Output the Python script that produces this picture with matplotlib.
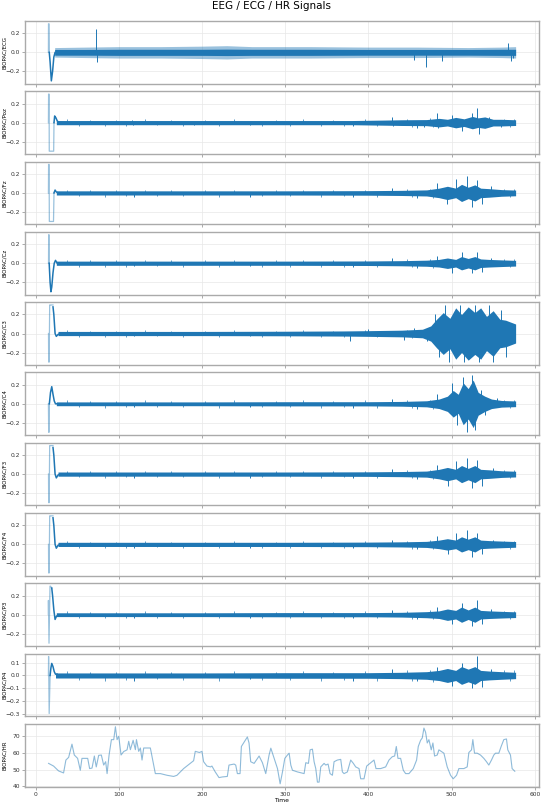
import matplotlib
matplotlib.use("Agg")
import matplotlib.pyplot as plt

# channel names (top to bottom)
channels = ["BIOPAC/ECG", "BIOPAC/Poz", "BIOPAC/Fz", "BIOPAC/Cz", "BIOPAC/C3",
            "BIOPAC/C4", "BIOPAC/F3", "BIOPAC/F4", "BIOPAC/P3", "BIOPAC/P4"]

# start-up artefact of each channel: light part (thin spike) and dark part
spike_t = {
    "BIOPAC/ECG": [15.5, 15.6, 16.2, 16.5],
    "BIOPAC/Poz": [15.5, 15.7, 16.3, 16.5, 21.8, 22.2],
    "BIOPAC/Fz": [15.5, 15.7, 16.3, 16.6, 21.6, 22.2],
    "BIOPAC/Cz": [15.6, 15.8, 16.2, 16.4],
    "BIOPAC/C3": [15.6, 15.8, 16.4, 17.0, 17.6, 21.0],
    "BIOPAC/C4": [15.5, 15.8, 16.2, 16.6],
    "BIOPAC/F3": [15.6, 15.8, 16.4, 17.0, 17.6, 21.0],
    "BIOPAC/F4": [15.6, 15.8, 16.4, 17.0, 17.6, 21.0],
    "BIOPAC/P3": [15.4, 15.5, 16.2, 17.4, 18.0, 19.5],
    "BIOPAC/P4": [15.5, 15.7, 16.4, 17.5],
}
spike_v = {
    "BIOPAC/ECG": [0.0, 0.3, 0.3, 0.0],
    "BIOPAC/Poz": [0.0, 0.3, 0.3, -0.3, -0.3, 0.0],
    "BIOPAC/Fz": [0.0, 0.3, 0.3, -0.3, -0.3, 0.0],
    "BIOPAC/Cz": [0.0, 0.3, 0.3, 0.0],
    "BIOPAC/C3": [0.0, -0.3, -0.3, 0.3, 0.3, 0.3],
    "BIOPAC/C4": [0.0, -0.3, -0.3, 0.0],
    "BIOPAC/F3": [0.0, -0.3, -0.3, 0.3, 0.3, 0.3],
    "BIOPAC/F4": [0.0, -0.3, -0.3, 0.3, 0.3, 0.3],
    "BIOPAC/P3": [0.0, 0.15, -0.3, 0.3, 0.3, 0.28],
    "BIOPAC/P4": [0.0, 0.15, -0.3, 0.0],
}
lead_t = {
    "BIOPAC/ECG": [16.5, 17.5, 19.0, 20.5, 22.0, 23.5, 25.0],
    "BIOPAC/Poz": [22.2, 23.0, 24.5, 26.0, 28.0, 30.0],
    "BIOPAC/Fz": [22.2, 23.5, 25.0, 27.0, 30.0],
    "BIOPAC/Cz": [16.4, 17.5, 18.5, 19.5, 21.0, 22.5, 24.0, 26.0],
    "BIOPAC/C3": [21.0, 22.0, 23.5, 25.0, 27.0, 30.0],
    "BIOPAC/C4": [16.6, 18.0, 19.5, 21.0, 22.5, 24.0, 26.0],
    "BIOPAC/F3": [21.0, 22.0, 23.5, 25.0, 27.0, 30.0],
    "BIOPAC/F4": [21.0, 22.0, 23.5, 25.0, 27.0, 30.0],
    "BIOPAC/P3": [19.5, 20.5, 22.0, 23.5, 25.0, 27.0],
    "BIOPAC/P4": [17.5, 18.5, 19.5, 21.0, 22.5, 24.0, 26.0],
}
lead_v = {
    "BIOPAC/ECG": [0.0, -0.1, -0.3, -0.2, -0.05, 0.0, 0.0],
    "BIOPAC/Poz": [0.0, 0.07, 0.05, 0.02, 0.0, 0.0],
    "BIOPAC/Fz": [0.0, 0.03, 0.01, 0.0, 0.0],
    "BIOPAC/Cz": [0.0, -0.2, -0.3, -0.25, -0.1, 0.0, 0.03, 0.0],
    "BIOPAC/C3": [0.28, 0.2, 0.0, -0.03, -0.01, 0.0],
    "BIOPAC/C4": [0.0, 0.12, 0.18, 0.1, 0.03, 0.0, 0.0],
    "BIOPAC/F3": [0.28, 0.2, 0.0, -0.04, -0.01, 0.0],
    "BIOPAC/F4": [0.28, 0.2, 0.0, -0.04, -0.01, 0.0],
    "BIOPAC/P3": [0.28, 0.2, 0.05, -0.05, -0.02, 0.0],
    "BIOPAC/P4": [0.0, 0.06, 0.095, 0.07, 0.03, 0.01, 0.01],
}

# envelope of the dense signal band: breakpoints (time) and half-width
band_t = {
    "BIOPAC/ECG": [23, 60, 100, 150, 200, 230, 260, 330, 400, 460, 520, 560, 577],
    "BIOPAC/Poz": [25, 100, 200, 300, 380, 420, 440, 470, 485, 495, 505, 515, 525, 532, 540, 550, 560, 577],
    "BIOPAC/Fz": [25, 100, 200, 300, 400, 440, 470, 485, 495, 505, 512, 520, 528, 535, 545, 560, 577],
    "BIOPAC/Cz": [25, 100, 200, 300, 400, 440, 470, 485, 495, 505, 512, 520, 528, 535, 545, 560, 577],
    "BIOPAC/C3": [27, 100, 200, 300, 370, 400, 440, 465, 475, 482, 490, 498, 505, 512, 520, 528, 535, 542,
                  550, 558, 565, 577],
    "BIOPAC/C4": [25, 100, 200, 300, 400, 440, 470, 485, 495, 502, 508, 514, 520, 526, 532, 540, 548, 560, 577],
    "BIOPAC/F3": [27, 100, 200, 300, 400, 440, 470, 485, 495, 505, 512, 520, 528, 535, 545, 560, 577],
    "BIOPAC/F4": [27, 100, 200, 300, 400, 440, 470, 485, 495, 505, 512, 520, 528, 535, 545, 560, 577],
    "BIOPAC/P3": [25, 100, 200, 300, 400, 440, 470, 485, 495, 505, 512, 520, 528, 535, 545, 560, 577],
    "BIOPAC/P4": [24, 100, 200, 300, 400, 440, 470, 485, 495, 505, 512, 520, 528, 535, 545, 560, 577],
}
band_a = {
    "BIOPAC/ECG": [0.03, 0.03, 0.032, 0.032, 0.032, 0.034, 0.032, 0.032, 0.03, 0.03, 0.03, 0.032, 0.032],
    "BIOPAC/Poz": [0.022, 0.022, 0.022, 0.022, 0.022, 0.027, 0.03, 0.032, 0.045, 0.035, 0.055, 0.04,
                   0.065, 0.05, 0.06, 0.035, 0.035, 0.03],
    "BIOPAC/Fz": [0.022, 0.022, 0.022, 0.022, 0.024, 0.027, 0.032, 0.05, 0.07, 0.05, 0.09, 0.06, 0.085,
                  0.05, 0.045, 0.035, 0.03],
    "BIOPAC/Cz": [0.022, 0.022, 0.022, 0.022, 0.024, 0.027, 0.032, 0.04, 0.055, 0.04, 0.07, 0.05, 0.07,
                  0.045, 0.04, 0.035, 0.03],
    "BIOPAC/C3": [0.022, 0.022, 0.022, 0.024, 0.027, 0.03, 0.035, 0.045, 0.08, 0.15, 0.22, 0.16, 0.27,
                  0.2, 0.28, 0.22, 0.27, 0.18, 0.24, 0.15, 0.14, 0.1],
    "BIOPAC/C4": [0.02, 0.02, 0.02, 0.022, 0.022, 0.025, 0.032, 0.05, 0.08, 0.14, 0.1, 0.22, 0.16, 0.25,
                  0.12, 0.08, 0.05, 0.035, 0.03],
    "BIOPAC/F3": [0.022, 0.022, 0.022, 0.022, 0.024, 0.027, 0.032, 0.05, 0.07, 0.05, 0.09, 0.06, 0.09,
                  0.05, 0.045, 0.035, 0.03],
    "BIOPAC/F4": [0.022, 0.022, 0.022, 0.022, 0.024, 0.027, 0.032, 0.045, 0.06, 0.045, 0.08, 0.055, 0.08,
                  0.045, 0.04, 0.035, 0.03],
    "BIOPAC/P3": [0.02, 0.02, 0.02, 0.022, 0.022, 0.025, 0.032, 0.04, 0.06, 0.045, 0.08, 0.05, 0.08,
                  0.045, 0.04, 0.035, 0.03],
    "BIOPAC/P4": [0.02, 0.02, 0.02, 0.022, 0.022, 0.025, 0.03, 0.04, 0.055, 0.04, 0.07, 0.05, 0.07,
                  0.04, 0.035, 0.03, 0.025],
}

# lighter outer band of the ECG trace
ecg_outer_a = [0.05, 0.055, 0.06, 0.06, 0.065, 0.07, 0.06, 0.06, 0.055, 0.055, 0.05, 0.055, 0.06]

# small excursions seen all along the baseline (time, value), shared by the EEG leads
base_spikes = [(38, 0.035), (52, -0.035), (66, 0.03), (83, -0.04), (97, 0.03), (109, -0.035),
               (131, 0.035), (146, -0.03), (163, 0.03), (177, -0.035), (204, 0.03), (221, -0.04),
               (238, 0.035), (272, -0.035), (289, 0.03), (306, -0.035), (321, 0.035), (343, -0.04),
               (358, 0.03), (371, -0.035), (396, 0.035), (411, -0.04), (446, 0.04), (452, -0.045),
               (474, 0.045), (478, -0.05), (563, 0.04), (570, -0.045), (575, 0.04)]

# isolated excursions out of the band (time, value)
spikes = {
    "BIOPAC/ECG": [(72.5, 0.25), (74, -0.1), (455, -0.08), (469, -0.15), (488, -0.09),
                   (568, 0.1), (571, -0.09), (574, -0.06)],
    "BIOPAC/Poz": [(116, 0.03), (117, -0.03), (190, -0.03), (258, -0.03), (382, -0.035),
                   (429, 0.06), (430, -0.04), (458, -0.06), (467, -0.05), (483, 0.1),
                   (484, -0.06), (500, 0.08), (512, -0.09), (525, 0.1), (531, 0.15),
                   (533, -0.12), (545, 0.06), (560, -0.05)],
    "BIOPAC/Fz": [(118, -0.04), (258, -0.04), (382, -0.04), (429, 0.05), (458, -0.05),
                  (483, 0.1), (495, -0.12), (505, 0.15), (518, 0.18), (524, -0.15),
                  (531, 0.14), (536, -0.12), (548, 0.07)],
    "BIOPAC/Cz": [(118, -0.03), (258, -0.03), (382, -0.035), (429, 0.05), (458, -0.05),
                  (483, 0.08), (500, -0.1), (512, 0.12), (524, -0.1), (531, 0.12),
                  (536, -0.09), (548, 0.06)],
    "BIOPAC/C3": [(118, -0.03), (258, -0.03), (378, -0.08), (400, 0.05), (443, -0.07),
                  (455, 0.06), (470, -0.08), (480, 0.2), (485, -0.25), (492, 0.3),
                  (497, -0.3), (510, 0.3), (515, -0.3), (528, 0.3), (533, -0.3),
                  (545, 0.3), (550, -0.3), (560, 0.25), (566, -0.25)],
    "BIOPAC/C4": [(118, -0.03), (258, -0.03), (382, -0.04), (429, 0.05), (458, -0.05),
                  (483, 0.1), (500, 0.22), (506, -0.22), (514, 0.28), (518, -0.3),
                  (524, 0.3), (528, -0.28), (535, 0.15), (540, -0.12), (555, 0.06)],
    "BIOPAC/F3": [(118, -0.04), (258, -0.04), (382, -0.04), (429, 0.05), (458, -0.05),
                  (483, 0.1), (496, -0.12), (505, 0.14), (518, 0.17), (524, -0.15),
                  (531, 0.15), (536, -0.12), (550, 0.06)],
    "BIOPAC/F4": [(118, -0.04), (258, -0.04), (382, -0.04), (429, 0.05), (458, -0.05),
                  (483, 0.09), (496, -0.1), (505, 0.12), (518, 0.15), (524, -0.13),
                  (531, 0.12), (536, -0.1), (550, 0.05)],
    "BIOPAC/P3": [(118, -0.03), (258, -0.03), (382, -0.035), (429, 0.05), (458, -0.05),
                  (483, 0.08), (500, -0.1), (512, 0.12), (524, -0.12), (531, 0.15),
                  (536, -0.1), (548, 0.06)],
    "BIOPAC/P4": [(118, -0.04), (258, -0.03), (382, -0.04), (429, 0.05), (458, -0.04),
                  (483, 0.07), (500, -0.08), (512, 0.1), (524, -0.1), (531, 0.15),
                  (536, -0.09), (548, 0.05)],
}

# heart rate trace
hr_t = [15.7, 21.7, 27.7, 33.7, 36.5, 39.8, 43.8, 46.6, 50.6, 53.8, 55.8, 62.7, 65.0, 67.9,
        70.7, 73.0, 75.9, 79.1, 81.9, 84.3, 86.0, 88.4, 91.2, 94.0, 96.0, 98.0, 100.0, 102.8,
        106.0, 110.0, 112.0, 114.0, 117.3, 120.0, 121.3, 124.0, 126.0, 128.0, 130.0, 138.0,
        144.0, 150.0, 158.0, 166.0, 170.0, 178.0, 186.0, 190.0, 192.0, 197.0, 200.0, 202.0,
        206.0, 210.4, 212.0, 216.0, 220.5, 224.5, 230.5, 232.5, 238.6, 240.6, 242.6, 245.8,
        247.4, 254.6, 256.6, 258.6, 262.7, 266.7, 268.7, 272.7, 276.7, 280.7, 282.8, 286.8,
        290.8, 294.0, 296.8, 299.6, 302.8, 304.8, 306.8, 308.8, 314.8, 322.8, 324.8, 328.0,
        330.0, 332.8, 334.8, 336.8, 338.8, 340.8, 342.8, 346.8, 348.8, 351.6, 354.0, 356.8,
        358.8, 362.8, 366.8, 368.8, 370.8, 374.8, 378.8, 382.0, 384.8, 388.8, 390.8, 394.8,
        398.0, 402.8, 406.8, 409.2, 414.8, 420.8, 424.8, 428.8, 431.6, 433.6, 435.6, 438.8,
        442.0, 444.8, 448.8, 454.0, 458.0, 460.0, 462.8, 464.8, 466.8, 468.8, 470.8, 472.8,
        475.6, 477.6, 479.6, 482.8, 484.8, 490.8, 494.8, 498.8, 502.0, 506.0, 508.8, 514.8,
        518.8, 520.8, 524.0, 525.6, 527.6, 530.8, 534.8, 538.8, 542.0, 544.8, 548.0, 550.8,
        552.8, 556.8, 559.6, 562.8, 566.0, 567.6, 570.8, 572.8, 576.0]
hr_v = [53.8, 52.2, 49.3, 48.1, 55.8, 57.4, 65.3, 58.8, 56.8, 49.7, 56.8, 56.8, 50.7, 51.0,
        58.2, 51.7, 58.6, 58.8, 52.8, 54.8, 47.7, 58.8, 68.0, 68.0, 75.7, 68.0, 70.0, 58.8,
        60.9, 61.9, 67.0, 62.0, 67.6, 62.0, 68.0, 61.0, 63.0, 55.8, 63.0, 63.0,
        47.7, 47.7, 46.7, 46.0, 46.7, 50.7, 53.8, 55.4, 61.0, 60.3, 61.0, 54.8,
        52.2, 51.7, 52.2, 48.7, 45.3, 45.7, 46.0, 52.8, 53.4, 52.8, 47.7, 47.7,
        63.9, 69.6, 66.0, 54.8, 53.8, 56.8, 58.2, 54.2, 47.7, 58.8, 62.9, 56.8,
        50.7, 41.6, 48.7, 56.8, 58.8, 59.9, 52.8, 49.7, 48.7, 47.7, 54.2, 53.8,
        61.9, 62.3, 54.8, 50.7, 42.6, 42.6, 51.7, 53.8, 52.8, 53.4, 47.7, 46.7,
        54.8, 55.8, 56.2, 48.7, 47.7, 48.7, 55.8, 53.8, 51.7, 50.7, 44.6, 44.6,
        52.2, 54.2, 55.8, 50.7, 50.7, 51.7, 55.8, 57.8, 58.2, 63.9, 56.8, 56.8,
        49.7, 47.7, 47.7, 50.7, 55.8, 63.9, 67.6, 69.0, 74.9, 72.4, 66.0, 68.0,
        61.9, 66.0, 58.2, 58.8, 61.9, 59.9, 51.7, 46.7, 44.6, 46.7, 50.7, 50.7,
        51.7, 60.3, 61.9, 68.0, 59.9, 59.9, 58.8, 56.8, 54.8, 52.8, 55.8, 58.8,
        59.9, 59.9, 63.9, 68.0, 68.4, 61.9, 58.8, 50.7, 49.1]

yticks_eeg = [-0.2, 0.0, 0.2]
yticks_p4 = [-0.3, -0.2, -0.1, 0.0, 0.1]
yticks_hr = [40, 50, 60, 70]
xticks = [0, 100, 200, 300, 400, 500, 600]

BLUE = "#1f77b4"

fig, axes = plt.subplots(11, 1, figsize=(5.43, 8.06), dpi=100, sharex=True)
plt.subplots_adjust(left=0.046, right=0.9926, top=0.974, bottom=0.024, hspace=0.12)

for ax, ch in zip(axes[:-1], channels):
    if ch == "BIOPAC/ECG":
        lo = [-a for a in ecg_outer_a]
        ax.fill_between(band_t[ch], lo, ecg_outer_a, color=BLUE, alpha=0.45, lw=0)
    a = band_a[ch]
    ax.fill_between(band_t[ch], [-x for x in a], a, color=BLUE, lw=0)
    ax.plot(spike_t[ch], spike_v[ch], color=BLUE, alpha=0.45, lw=0.9)
    ax.plot(lead_t[ch], lead_v[ch], color=BLUE, lw=1.1)
    if ch != "BIOPAC/ECG":
        bt = [s[0] for s in base_spikes]
        bv = [s[1] for s in base_spikes]
        ax.vlines(bt, 0, bv, color=BLUE, lw=0.5)
    st = [s[0] for s in spikes[ch]]
    sv = [s[1] for s in spikes[ch]]
    ax.vlines(st, 0, sv, color=BLUE, lw=0.7)
    ax.set_yticks(yticks_p4 if ch == "BIOPAC/P4" else yticks_eeg)

axes[-1].plot(hr_t, hr_v, color=BLUE, alpha=0.5, lw=0.8)
axes[-1].set_yticks(yticks_hr)
axes[-1].set_xticks(xticks)
axes[-1].set_xlabel("Time", fontsize=4.3, labelpad=1)

for ax, name in zip(axes, channels + ["BIOPAC/HR"]):
    ax.set_ylabel(name, fontsize=4.0)
    ax.yaxis.set_label_coords(-0.035, 0.5)
    ax.grid(True, color="#e8e8e8", lw=0.5)
    ax.set_axisbelow(True)
    ax.tick_params(labelsize=4.3, length=2, width=0.5, color="#888888",
                   labelcolor="#333333", pad=1.5)
    for sp in ax.spines.values():
        sp.set_color("#aaaaaa")
        sp.set_linewidth(1.0)

fig.suptitle("EEG / ECG / HR Signals", fontsize=7.5, y=0.992, va="center")

fig.savefig("out.png", dpi=100)
